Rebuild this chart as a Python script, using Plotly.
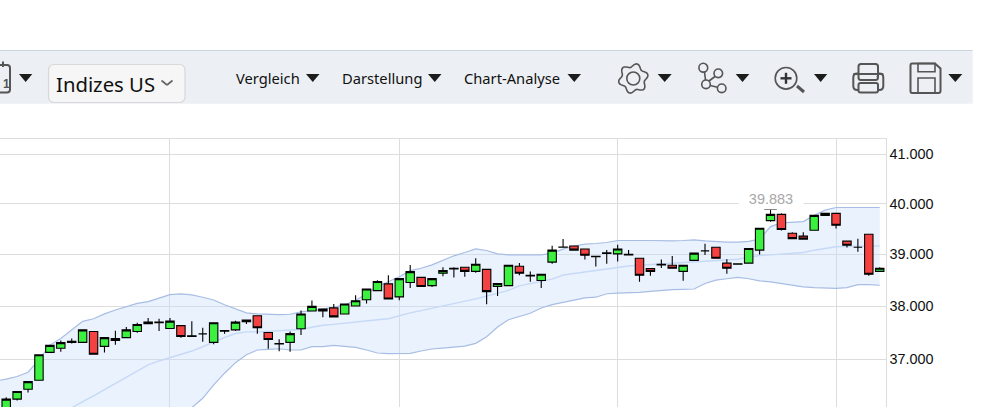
import numpy as np
import plotly.graph_objects as go

#++++++++++++++++++++++++++++++++++++
# Chart data
#++++++++++++++++++++++++++++++++++++

opens = [36100, 36270, 36450, 36615, 37130, 37205, 37315, 37315, 37520, 37240,
         37350, 37405, 37520, 37665, 37685, 37575, 37630, 37425, 37475, 37315,
         37525, 37550, 37735, 37815, 37500, 37285, 37315, 37570, 37905, 37945,
         37965, 37850, 38000, 38120, 38295, 38425, 38175, 38450, 38550, 38390,
         38630, 38715, 38745, 38665, 38705, 38375, 38390, 38765, 38575, 38490,
         38845, 39135, 39160, 39100, 38950, 39015, 39005, 38985, 38920, 38720,
         38790, 38785, 38665, 38880, 39065, 39135, 38825, 38805, 38825, 39080,
         39660, 39785, 39410, 39355, 39470, 39765, 39805, 39255, 39135, 39390,
         38665]
highs = [36305, 36410, 36590, 37085, 37260, 37350, 37390, 37550, 37520, 37405,
         37535, 37605, 37685, 37775, 37760, 37775, 37630, 37710, 37590, 37685,
         37535, 37720, 37735, 37815, 37500, 37375, 37520, 37915, 38105, 37945,
         38040, 38040, 38205, 38325, 38495, 38590, 38525, 38790, 38550, 38525,
         38745, 38745, 38745, 38920, 38705, 38430, 38785, 38830, 38665, 38610,
         39165, 39295, 39160, 39100, 38960, 39080, 39185, 39080, 38920, 38720,
         38895, 38965, 38785, 39020, 39205, 39135, 38900, 38815, 39110, 39510,
         39883, 39805, 39430, 39430, 39765, 39805, 39805, 39255, 39300, 39390,
         38745]
lows = [36100, 36245, 36390, 36615, 37130, 37140, 37295, 37315, 37095, 37125,
        37270, 37405, 37495, 37665, 37530, 37575, 37400, 37420, 37325, 37280,
        37475, 37530, 37660, 37475, 37195, 37150, 37140, 37455, 37905, 37790,
        37795, 37850, 38000, 38050, 38295, 38135, 38110, 38345, 38375, 38365,
        38570, 38545, 38560, 38640, 38035, 38190, 38390, 38590, 38465, 38345,
        38815, 39135, 39080, 38895, 38760, 38815, 38855, 38985, 38465, 38580,
        38730, 38725, 38485, 38880, 38985, 38920, 38620, 38805, 38825, 38995,
        39640, 39465, 39295, 39295, 39470, 39765, 39505, 39130, 39045, 38580,
        38665]
closes = [36270, 36410, 36590, 37085, 37260, 37310, 37335, 37550, 37095, 37405,
          37385, 37550, 37650, 37695, 37695, 37715, 37425, 37440, 37475, 37685,
          37535, 37695, 37705, 37590, 37370, 37295, 37480, 37850, 37995, 37905,
          37795, 38040, 38100, 38325, 38470, 38135, 38525, 38660, 38375, 38525,
          38680, 38725, 38665, 38805, 38275, 38430, 38785, 38630, 38590, 38610,
          39080, 39140, 39080, 38980, 38960, 39025, 39100, 39000, 38590, 38665,
          38805, 38725, 38785, 39020, 39065, 38920, 38725, 38815, 39110, 39510,
          39785, 39485, 39305, 39295, 39765, 39805, 39570, 39175, 39135, 38610,
          38725]

# bollinger bands, first value sits one step left of the first candle
band_upper = [36600, 36634, 36683, 36762, 36988, 37265, 37389, 37543, 37710, 37759,
              37851, 37926, 37987, 38052, 38084, 38155, 38219, 38232, 38213, 38168,
              38116, 38026, 37944, 37870, 37851, 37839, 37839, 37845, 37888, 37914,
              37938, 37975, 38026, 38105, 38235, 38379, 38464, 38562, 38680, 38726,
              38791, 38876, 38968, 39033, 39105, 39072, 39007, 38988, 38988, 38988,
              38988, 39020, 39099, 39160, 39196, 39209, 39229, 39268, 39275, 39268,
              39268, 39262, 39262, 39268, 39281, 39262, 39242, 39235, 39235, 39249,
              39294, 39543, 39615, 39621, 39641, 39765, 39870, 39922, 39922, 39922,
              39929, 39922]
band_mid = [35560, 35600, 35640, 35700, 35780, 35880, 36000, 36115, 36225, 36329,
            36439, 36549, 36665, 36774, 36896, 36970, 37031, 37080, 37154, 37234,
            37327, 37407, 37481, 37512, 37512, 37524, 37531, 37540, 37556, 37599,
            37636, 37654, 37679, 37698, 37722, 37741, 37759, 37821, 37870, 37914,
            37957, 38007, 38052, 38092, 38137, 38190, 38249, 38301, 38386, 38432,
            38484, 38517, 38595, 38625, 38647, 38673, 38706, 38745, 38771, 38784,
            38797, 38810, 38823, 38843, 38863, 38876, 38882, 38889, 38902, 38941,
            38974, 38987, 39000, 39013, 39033, 39078, 39118, 39144, 39150, 39150,
            39163, 39163]
band_lower = [35000, 35040, 35080, 35120, 35160, 35200, 35240, 35280, 35320, 35360,
              35400, 35440, 35480, 35500, 35630, 35750, 35870, 35990, 36115, 36286,
              36530, 36744, 36939, 37086, 37173, 37185, 37197, 37173, 37173, 37235,
              37235, 37260, 37241, 37223, 37173, 37118, 37105, 37105, 37112, 37155,
              37192, 37210, 37223, 37247, 37297, 37420, 37605, 37741, 37803, 37864,
              37963, 38026, 38072, 38111, 38156, 38169, 38235, 38248, 38254, 38261,
              38281, 38300, 38313, 38320, 38326, 38431, 38496, 38523, 38549, 38523,
              38483, 38464, 38431, 38392, 38366, 38353, 38339, 38339, 38353, 38411,
              38411, 38398]

price_ticks = [37000, 38000, 39000, 40000, 41000]
price_labels = ['37.000', '38.000', '39.000', '40.000', '41.000']
date_ticks = [15, 36, 56, 76]
peak_index = 70
peak_value = 39883
peak_label = '39.883'

#++++++++++++++++++++++++++++++++++++
# Toolbar shapes, in page pixels (x2/y2)
#++++++++++++++++++++++++++++++++++++

ICON = '#555555'
DARK = '#1c1c1c'
X_RANGE = [-0.568, 80.53]
Y_RANGE = [4.55784, 4.61604]


def line(x0, y0, x1, y1, color=ICON, width=1.6):
    return dict(type='line', x0=x0, y0=y0, x1=x1, y1=y1, xref='x2', yref='y2', line=dict(color=color, width=width))


def circle(cx, cy, r, color=ICON, width=1.6):
    return dict(type='circle', x0=cx-r, y0=cy-r, x1=cx+r, y1=cy+r, xref='x2', yref='y2', line=dict(color=color, width=width))


def round_rect(x0, y0, x1, y1, r, color=ICON, width=1.6, fill='rgba(0,0,0,0)'):
    d = (f'M {x0+r} {y0} L {x1-r} {y0} Q {x1} {y0} {x1} {y0+r} L {x1} {y1-r} Q {x1} {y1} {x1-r} {y1} '
         f'L {x0+r} {y1} Q {x0} {y1} {x0} {y1-r} L {x0} {y0+r} Q {x0} {y0} {x0+r} {y0} Z')
    return dict(type='path', path=d, xref='x2', yref='y2', fillcolor=fill, line=dict(color=color, width=width))


def triangle(x0, x1):
    d = f'M {x0} 74 L {x1} 74 L {(x0+x1)/2} 82 Z'
    return dict(type='path', path=d, xref='x2', yref='y2', fillcolor=DARK, line=dict(width=0))


def gear(cx, cy):
    angles = np.linspace(0, 2*np.pi, 97)
    radii = 13.2 + 1.8*np.cos(6*angles + np.pi/2)
    pts = [f'{cx+r*np.cos(a):.2f} {cy+r*np.sin(a):.2f}' for a, r in zip(angles, radii)]
    return dict(type='path', path='M ' + ' L '.join(pts) + ' Z', xref='x2', yref='y2', line=dict(color=ICON, width=1.6))


shapes = [
    dict(type='rect', x0=-2, y0=50.5, x1=972.7, y1=103.7, xref='x2', yref='y2', fillcolor='#ecEff3', line=dict(width=0)),
    line(-2, 50.5, 972.7, 50.5, color='#cdd6de', width=1),
    # calendar, cut off at the left edge
    round_rect(-8, 65, 10, 92.5, 3, width=2),
    line(3, 61.5, 3, 67, width=2),
    triangle(19, 32.3),
    # market select
    round_rect(48.5, 64.5, 185, 102.5, 6, color='#d6d8da', width=1.2, fill='#f6f6f6'),
    line(161.5, 80.5, 167, 85, color='#666666', width=1.7),
    line(167, 85, 172.5, 80.5, color='#666666', width=1.7),
    triangle(306, 319.5),
    triangle(428, 441.5),
    triangle(567.5, 581),
    # settings
    gear(633.3, 78.5),
    circle(633.3, 78.5, 6.5),
    triangle(657.7, 671.7),
    # compare
    circle(703.3, 67.7, 4.4),
    circle(718.3, 73.3, 4.3),
    circle(706, 84.3, 4.3),
    circle(721.7, 88.3, 4.3),
    line(704.5, 72, 705.5, 80),
    line(709, 81, 715, 76.5),
    line(710.2, 85.5, 717.5, 87.2),
    triangle(735.7, 749.3),
    # zoom
    circle(786, 78.3, 10.8),
    line(780.5, 78.3, 791.5, 78.3, color='#333333', width=2.4),
    line(786, 72.8, 786, 83.8, color='#333333', width=2.4),
    line(797, 86, 804, 92, width=3),
    triangle(814, 827.3),
    # print
    round_rect(853.3, 73.5, 883.3, 90, 4, width=2),
    round_rect(858.5, 64, 878, 80, 2.5, width=2, fill='#ecEff3'),
    round_rect(858.5, 83, 878, 92.5, 2, width=2, fill='#ecEff3'),
    line(853.3, 74, 883.3, 74, width=2),
    circle(877.7, 76.5, 0.6, width=1.2),
    # save
    dict(type='path', path='M 912 63.5 L 935 63.5 L 940.5 68.5 L 940.5 91 Q 940.5 93 938.5 93 L 912 93 Q 910.5 93 910.5 91 L 910.5 65.5 Q 910.5 63.5 912 63.5 Z',
         xref='x2', yref='y2', line=dict(color=ICON, width=2)),
    dict(type='rect', x0=918, y0=63.5, x1=935, y1=71.8, xref='x2', yref='y2', line=dict(color=ICON, width=1.6)),
    dict(type='rect', x0=918, y0=78, x1=935, y1=93, xref='x2', yref='y2', line=dict(color=ICON, width=1.6)),
    triangle(948.3, 962.3),
]


def toolbar_text(x, y, text, size):
    return dict(x=x, y=y, xref='x2', yref='y2', text=text, showarrow=False, xanchor='left', yanchor='middle',
                borderpad=0, font=dict(family='Noto Sans', size=size, color='#111111'))


annotations = [
    toolbar_text(54.5, 84, 'Indizes US', 20.3),
    toolbar_text(234.5, 77.5, 'Vergleich', 14.7),
    toolbar_text(340.5, 77.5, 'Darstellung', 14.7),
    toolbar_text(462.5, 77.5, 'Chart-Analyse', 14.7),
    dict(x=0.5, y=84, xref='x2', yref='y2', text='1', showarrow=False, xanchor='left', yanchor='middle',
         font=dict(family='Liberation Sans', size=12, color=ICON, weight='bold')),
    dict(x=peak_index, y=np.log10(peak_value), xref='x', yref='y', text=peak_label, showarrow=False, yshift=10,
         width=62, height=18, bgcolor='white', font=dict(family='Liberation Sans', size=14.5, color='#a8a8a8')),
]

#++++++++++++++++++++++++++++++++++++
# Figure
#++++++++++++++++++++++++++++++++++++

candle_x = list(range(len(opens)))
band_x = list(range(-1, len(opens)))

fig = go.Figure()
fig.add_trace(go.Scatter(x=band_x, y=band_upper, mode='lines', line=dict(color='#a7bde4', width=1.2), hoverinfo='skip'))
fig.add_trace(go.Scatter(x=band_x, y=band_lower, mode='lines', line=dict(color='#a7bde4', width=1.2), hoverinfo='skip',
                         fill='tonexty', fillcolor='rgba(197,218,250,0.36)'))
fig.add_trace(go.Scatter(x=band_x, y=band_mid, mode='lines', line=dict(color='#c6d9f7', width=1.4), hoverinfo='skip'))
# candles on an overlay, box traces would otherwise sit below the band fill
fig.add_trace(go.Candlestick(x=candle_x, open=opens, high=highs, low=lows, close=closes, hoverinfo='skip',
                             xaxis='x3', yaxis='y3',
                             increasing=dict(fillcolor='#3bf03f', line=dict(color='black', width=1.1)),
                             decreasing=dict(fillcolor='#f44242', line=dict(color='black', width=1.1))))
fig.add_trace(go.Scatter(x=[peak_index], y=[peak_value], mode='markers', hoverinfo='skip', xaxis='x3', yaxis='y3',
                         marker=dict(symbol='line-ew', size=9, line=dict(color='black', width=1))))
# empty trace so that the pixel axes exist for the toolbar
fig.add_trace(go.Scatter(x=[0], y=[0], xaxis='x2', yaxis='y2', mode='markers', marker=dict(opacity=0), hoverinfo='skip'))

fig.update_layout(
    width=1003,
    height=407,
    margin=dict(l=0, r=0, t=0, b=0, autoexpand=False),
    paper_bgcolor='white',
    plot_bgcolor='rgba(0,0,0,0)',
    showlegend=False,
    boxmode='overlay',
    boxgap=0.23,
    boxgroupgap=0,
    shapes=shapes,
    annotations=annotations,
    xaxis=dict(domain=[0, 885.5/1003], range=X_RANGE, side='top', anchor='y',
               tickmode='array', tickvals=date_ticks, showticklabels=False, ticks='', showgrid=True, gridcolor='#dddddd',
               gridwidth=1, zeroline=False, showline=True, linecolor='#dddddd', linewidth=1),
    yaxis=dict(domain=[0, 267.7/407], type='log', range=Y_RANGE, side='right', anchor='x',
               tickmode='array', tickvals=price_ticks, ticktext=price_labels, ticks='', showgrid=True, gridcolor='#dddddd',
               gridwidth=1, zeroline=False, showline=True, linecolor='#dddddd', linewidth=1,
               tickfont=dict(family='Liberation Sans', size=14.4, color='#111111')),
    xaxis2=dict(domain=[0, 1], range=[0, 1003], anchor='y2', visible=False),
    yaxis2=dict(domain=[0, 1], range=[407, 0], anchor='x2', visible=False),
    xaxis3=dict(overlaying='x', range=X_RANGE, anchor='y3', visible=False, rangeslider=dict(visible=False)),
    yaxis3=dict(overlaying='y', type='log', range=Y_RANGE, anchor='x3', visible=False),
)

fig.write_html('out.html', config=dict(displayModeBar=False),
               post_script="document.body.style.margin='0';document.body.style.overflow='hidden';")
